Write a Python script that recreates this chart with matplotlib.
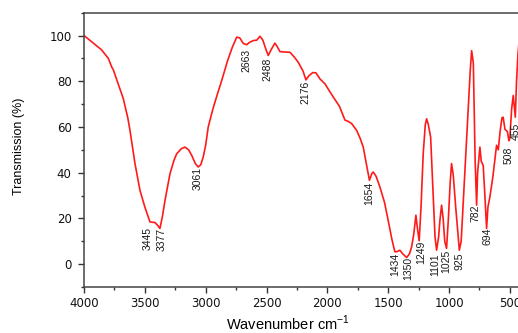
import matplotlib
matplotlib.use("Agg")
import matplotlib.pyplot as plt
from matplotlib.ticker import MultipleLocator

plt.rcParams['font.family'] = ['Liberation Sans', 'DejaVu Sans']

# FTIR spectrum (wavenumber in cm-1, transmission in %)
wavenumber = [4000, 3930, 3855, 3800, 3770, 3759, 3720, 3677, 3640, 3622,
              3581, 3540, 3500, 3458, 3435, 3417, 3395, 3376, 3355, 3334,
              3293, 3260, 3238, 3200, 3170, 3140, 3115, 3085, 3061, 3040,
              3020, 3000, 2979, 2940, 2900, 2870, 2820, 2780, 2745, 2720,
              2690, 2663, 2640, 2609, 2580, 2554, 2530, 2505, 2486, 2460,
              2431, 2410, 2390, 2350, 2307, 2270, 2239, 2200, 2176, 2150,
              2120, 2094, 2060, 2020, 1980, 1950, 1937, 1900, 1855, 1830,
              1800, 1759, 1730, 1705, 1680, 1654, 1635, 1623, 1600, 1568,
              1530, 1500, 1470, 1445, 1425, 1404, 1380, 1348, 1325, 1307,
              1290, 1272, 1258, 1245, 1230, 1212, 1195, 1184, 1170, 1151,
              1130, 1115, 1102, 1085, 1075, 1061, 1048, 1035, 1020, 1005,
              990, 979, 965, 945, 915, 900, 885, 869, 845, 825,
              814, 800, 785, 773, 765, 746, 735, 719, 705, 691,
              680, 664, 640, 620, 609, 595, 580, 565, 555, 540,
              520, 508, 500, 485, 472, 465, 455, 445, 433, 420, 400]
transmission = [100, 97, 93.7, 90, 86, 85, 79, 72.4, 64, 58.5,
                44, 32.3, 25, 18.5, 18.3, 18.2, 17, 15.6, 21, 28,
                39.6, 45.5, 48.3, 50.5, 51.2, 50, 47.6, 44, 42.5, 43.5,
                46.9, 52, 60, 68, 75, 80, 89, 95, 99.3, 99,
                96.5, 96, 97, 97.8, 98, 99.7, 98, 94, 91.3, 94,
                96.7, 95, 93, 92.8, 92.7, 90.5, 88.3, 84.5, 80.6, 82.5,
                83.8, 83.7, 81, 78.9, 75.5, 73, 72, 69, 63, 62.5,
                61.5, 58.5, 55, 51.2, 44, 36.7, 39.5, 40.3, 38.5, 33.8,
                27, 19.2, 11, 5.4, 5.5, 6.1, 4.5, 2.9, 4.5, 7.6,
                13, 21.4, 15, 10.2, 25, 48.3, 61, 63.6, 61, 55.6,
                30, 12, 6.1, 12, 19, 25.8, 20, 10, 6.9, 20,
                36, 44, 39, 25, 6.1, 10, 25, 41, 65, 85,
                93.4, 88, 45, 25.8, 40, 51.2, 45, 43.2, 30, 15.6,
                25, 29.4, 38, 47, 52, 50, 58, 64, 64.3, 59,
                58, 54, 55, 68, 73.8, 70, 64.3, 80, 92, 100, 100]

# peak labels: text, x position (cm-1), top of label (%)
peak_text = ['3445', '3377', '3061', '2663', '2488', '2176', '1654', '1434',
             '1350', '1249', '1101', '1025', '925', '782', '694', '508', '455']
peak_x = [3474, 3359, 3063, 2663, 2496, 2184, 1658, 1445,
          1338, 1225, 1111, 1020, 915, 783, 685, 513, 455]
peak_y = [16.2, 15.7, 42.4, 94.3, 90.5, 80.3, 36.0, 4.8,
          3.0, 10.5, 4.8, 6.5, 5.2, 26.2, 16.0, 51.5, 62.0]

fig = plt.figure(figsize=(5.18, 3.33), dpi=100)
ax = fig.add_axes([84 / 518, 46 / 333, 438 / 518, 274.3 / 333])

ax.plot(wavenumber, transmission, color='#ff1a1a', lw=1.2)

for t, x, y in zip(peak_text, peak_x, peak_y):
    ax.text(x, y, t, rotation=90, ha='center', va='top', fontsize=7.5,
            color='#1a1a1a')

ax.set_xlim(4000, 400)
ax.set_ylim(-10, 110)
ax.xaxis.set_major_locator(MultipleLocator(500))
ax.xaxis.set_minor_locator(MultipleLocator(250))
ax.yaxis.set_major_locator(MultipleLocator(20))
ax.yaxis.set_minor_locator(MultipleLocator(10))
ax.tick_params(which='both', direction='out', colors='#333333',
               labelsize=8.5, labelcolor='#111111')
ax.tick_params(which='major', length=4, width=1)
ax.tick_params(which='minor', length=2.5, width=1)
ax.tick_params(axis='y', pad=5)
ax.tick_params(axis='x', pad=3.5)
for lab in ax.get_xticklabels() + ax.get_yticklabels():
    lab.set_family('DejaVu Sans')
for s in ax.spines.values():
    s.set_color('#444444')
    s.set_linewidth(1.1)

ax.set_xlabel('Wavenumber cm$^{\\mathregular{-1}}$', fontsize=10.5)
ax.set_ylabel('Transmission (%)', fontsize=9)
ax.xaxis.set_label_coords(0.466, -0.097)
ax.yaxis.set_label_coords(-0.135, 0.514)

fig.savefig('out.png', dpi=100)
